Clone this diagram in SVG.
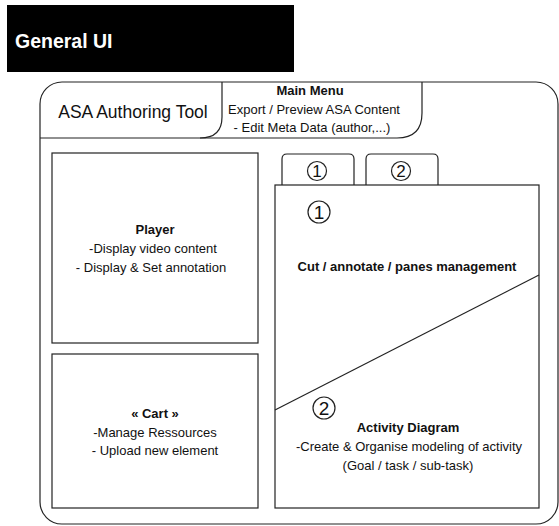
<svg xmlns="http://www.w3.org/2000/svg" width="559" height="526" viewBox="0 0 559 526">
<style>
  .ln { fill: none; stroke: #222; stroke-width: 1.2; }
  .box { fill: #fff; stroke: #222; stroke-width: 1.2; }
  .t { font-family: "Liberation Sans", Arial, sans-serif; font-size: 13px; fill: #111; text-anchor: middle; }
  .b { font-weight: bold; }
  .circ { fill: #fff; stroke: #222; stroke-width: 1.2; }
  .num { font-family: "Liberation Sans", Arial, sans-serif; font-size: 17px; fill: #111; text-anchor: middle; }
</style>
<rect x="0" y="0" width="559" height="526" fill="#fff"/>
<g id="header">
  <rect x="7" y="5" width="287" height="67" fill="#000"/>
  <text x="15" y="48" font-family="Liberation Sans, Arial, sans-serif" font-size="19.5" font-weight="bold" fill="#fff">General UI</text>
</g>
<g id="window">
  <rect class="box" x="40" y="82" width="518" height="442" rx="22" ry="22"/>
  <path class="ln" d="M40,138 L397,138"/>
</g>
<g id="title-tab">
  <path class="ln" d="M222,82 L222,117 Q222,138 200,138"/>
  <text class="t" x="133" y="118" style="font-size:17.5px">ASA Authoring Tool</text>
</g>
<g id="main-menu">
  <path class="ln" d="M422,82 L422,113 Q422,138 397,138"/>
  <text class="t b" x="310" y="95">Main Menu</text>
  <text class="t" x="314" y="114">Export / Preview ASA Content</text>
  <text class="t" x="312" y="132">- Edit Meta Data (author,...)</text>
</g>
<g id="player">
  <rect class="box" x="52" y="153" width="206" height="190"/>
  <text class="t b" x="155" y="234">Player</text>
  <text class="t" x="153" y="253">-Display video content</text>
  <text class="t" x="151" y="272">- Display &amp; Set annotation</text>
</g>
<g id="cart">
  <rect class="box" x="52" y="354" width="206" height="154"/>
  <text class="t b" x="155" y="418">« Cart »</text>
  <text class="t" x="155" y="437">-Manage Ressources</text>
  <text class="t" x="155" y="455">- Upload new element</text>
</g>
<g id="tab1">
  <path class="box" d="M282,185 L282,159 Q282,154 287,154 L349,154 Q354,154 354,159 L354,185"/>
  <circle class="circ" cx="317" cy="171" r="9.5"/>
  <text class="num" x="317" y="177">1</text>
</g>
<g id="tab2">
  <path class="box" d="M366,185 L366,159 Q366,154 371,154 L433,154 Q438,154 438,159 L438,185"/>
  <circle class="circ" cx="401" cy="171" r="9.5"/>
  <text class="num" x="401" y="177">2</text>
</g>
<g id="panel">
  <rect class="box" x="275" y="185" width="264" height="323"/>
  <line class="ln" x1="275" y1="410" x2="539" y2="275"/>
</g>
<g id="pane1">
  <circle class="circ" cx="319" cy="212" r="11"/>
  <text class="num" x="319" y="219" style="font-size:19px">1</text>
  <text class="t b" x="407" y="271">Cut / annotate / panes management</text>
</g>
<g id="pane2">
  <circle class="circ" cx="324" cy="408" r="11"/>
  <text class="num" x="324" y="415" style="font-size:19px">2</text>
  <text class="t b" x="408" y="432">Activity Diagram</text>
  <text class="t" x="409" y="451">-Create &amp; Organise modeling of activity</text>
  <text class="t" x="408" y="470">(Goal / task / sub-task)</text>
</g>
</svg>
